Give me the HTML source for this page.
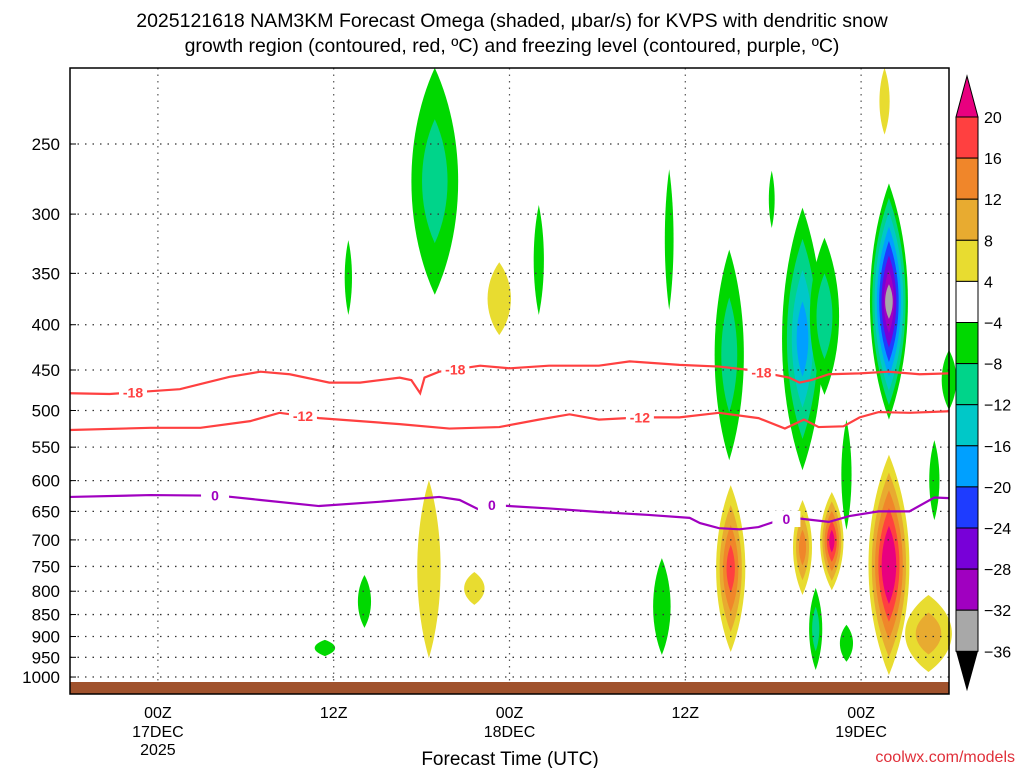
<!DOCTYPE html>
<html><head><meta charset="utf-8"><style>
html,body{margin:0;padding:0;background:#fff;}
body{width:1024px;height:768px;overflow:hidden;font-family:"Liberation Sans",sans-serif;}
</style></head><body>
<svg id="chart" width="1024" height="768" xmlns="http://www.w3.org/2000/svg" font-family="Liberation Sans, sans-serif">
<text x="512" y="27" font-size="19.5" text-anchor="middle">2025121618 NAM3KM Forecast Omega (shaded, μbar/s) for KVPS with dendritic snow</text>
<text x="512" y="52" font-size="19.5" text-anchor="middle">growth region (contoured, red, ºC) and freezing level (contoured, purple, ºC)</text>
<g id="shade"></g>
<g id="grid"></g>
<rect x="70" y="682" width="879" height="12" fill="#a0522d"/>
<g id="contours"></g>
<rect x="70" y="68" width="879" height="626" fill="none" stroke="#000" stroke-width="1.5"/>
<g id="yaxis"></g>
<g id="xaxis"></g>
<text x="510" y="765" font-size="19" text-anchor="middle">Forecast Time (UTC)</text>
<text x="1015" y="762" font-size="16" fill="#e0303a" text-anchor="end">coolwx.com/models</text>
<g id="cbar"></g>
</svg>
<script>
// ---- data ----
const pressureTicks=[250,300,350,400,450,500,550,600,650,700,750,800,850,900,950,1000];
const timeTickHours=[6,18,30,42,54];
const timeTickLabels=["00Z","12Z","00Z","12Z","00Z"];
const dateLabels=["17DEC","","18DEC","","19DEC"];
const yearLabels=["2025","","","",""];
const cbarLevels=[20,16,12,8,4,-4,-8,-12,-16,-20,-24,-28,-32,-36];
// contour lines: [forecast hour, pressure hPa]
const m18Line=[[0,478],[2.7,479],[7.5,473],[10.9,458],[13,452],[15,455],[17.7,465],[19.8,465],[22.5,459],[23.3,462],[23.9,478],[24.2,459],[25.2,452],[28,445],[30,448],[32.7,445],[36.1,445],[38.2,440],[41.6,444],[44.3,446],[46.4,450],[49.1,459],[49.8,465],[50.6,462],[51.8,455],[53.9,454],[55.9,452],[58,455],[60,454]];
const m12Line=[[0,526],[5.5,523],[8.9,523],[12.3,514],[14.3,503],[17,510],[19.8,514],[22.5,518],[25.9,524],[29.3,522],[32,512],[34.1,505],[36.1,512],[38.9,509],[41.6,509],[44.3,503],[47,510],[48.8,524],[50.1,512],[51.1,522],[52.8,521],[53.9,509],[55.2,502],[57.3,503],[60,501]];
const zeroLine=[[0,626],[5.5,623],[10.2,624],[13,631],[17,641],[21.1,634],[25.2,626],[26.6,631],[28,648],[28.6,639],[32.7,645],[36.1,651],[39.5,656],[42.3,661],[43,670],[44.3,679],[45.7,681],[47,677],[48.4,665],[49.4,661],[51.8,668],[53.2,658],[55.2,650],[57.3,650],[59,627],[60,628]];
const m18LabelHours=[4.3,26.3,47.2];
const m12LabelHours=[15.9,38.9];
const zeroLabelHours=[9.9,28.8,48.9];
// omega cells: center hour, top hPa, bottom hPa, half-width hours, peak µbar/s
const cellHour=[24.9,19,32,29.3,40.9,47.9,50,51.5,45,55.9,53,59,60,55.6,45.1,50,52,55.9,58.6,24.5,27.6,20.1,17.4,40.4,50.9,53];
const cellTop=[205,321,293,340,267,268,295,319,329,277,512,540,427,205,607,631,618,561,808,599,761,767,908,734,793,873];
const cellBottom=[370,390,390,411,385,311,584,480,569,512,682,665,499,244,937,808,798,995,987,952,829,880,947,944,982,961];
const cellWidth=[1.6,0.25,0.35,0.8,0.3,0.2,1.4,1.0,1.0,1.3,0.35,0.35,0.5,0.35,1.0,0.65,0.8,1.4,1.6,0.8,0.7,0.45,0.7,0.6,0.45,0.45];
const cellPeak=[-8.5,-6,-6,6,-6,-6,-18,-10,-11,-34,-6,-6,-6,6,18,12,22,24,10,6,6,-6,-6,-6,-10,-6];

// ---- axes ----
const X0=70,X1=949,Y0=68,Y1=694;
const xs=h=>X0+h*(X1-X0)/60;
const ys=p=>144+384.5*Math.log(p/250);
const NS="http://www.w3.org/2000/svg";
function mk(tag,attrs,parent){const e=document.createElementNS(NS,tag);for(const k in attrs)e.setAttribute(k,attrs[k]);parent.appendChild(e);return e;}
const posColors={4:"#e8dc30",8:"#e8ab30",12:"#f0862a",16:"#ff4040",20:"#e8007f"};
const negColors={4:"#00d800",8:"#00d48a",12:"#00c8c8",16:"#00a0ff",20:"#1e3cff",24:"#7800d8",28:"#a000c0",32:"#a8a8a8"};

// shading
const shade=document.getElementById('shade');
for(let i=0;i<cellHour.length;i++){
  const v=cellPeak[i],a=Math.abs(v);
  const n=Math.floor((a-4)/4)+1;
  const cx=xs(cellHour[i]),t=ys(cellTop[i]),b=ys(cellBottom[i]);
  const cy=(t+b)/2,hh=(b-t)/2,hw=cellWidth[i]*(X1-X0)/60;
  for(let k=0;k<n;k++){
    const s=1-k/(n+0.2);
    const lev=4+4*k;
    const col=v>0?posColors[Math.min(lev,20)]:negColors[Math.min(lev,32)];
    const top=cy-hh*s,bot=cy+hh*s,w=hw*Math.max(s,0.2)*1.33;
    const p=mk('path',{d:`M${cx},${top} C${cx+w},${cy-hh*s*0.4} ${cx+w},${cy+hh*s*0.4} ${cx},${bot} C${cx-w},${cy+hh*s*0.4} ${cx-w},${cy-hh*s*0.4} ${cx},${top}Z`,fill:col},shade);
    
    
  }
}

// grid + axes
const grid=document.getElementById('grid'),yax=document.getElementById('yaxis'),xax=document.getElementById('xaxis');
pressureTicks.forEach(p=>{
  const y=ys(p);
  const l=mk('line',{x1:X0,x2:X1,y1:y,y2:y,stroke:"#333","stroke-width":1.3,"stroke-dasharray":"1.5 6"},grid);
  
  
  const tk=mk('line',{x1:X0,x2:X0+6,y1:y,y2:y,stroke:"#000"},yax);
  
  
  const t=mk('text',{x:60,y:y+6,"font-size":17,"text-anchor":"end"},yax);
  t.textContent=p;
  
  
});
timeTickHours.forEach((h,i)=>{
  const x=xs(h);
  const l=mk('line',{x1:x,x2:x,y1:Y0,y2:Y1,stroke:"#555","stroke-width":1.2,"stroke-dasharray":"1.5 5"},grid);
  
  
  [[timeTickLabels[i],718],[dateLabels[i],737],[yearLabels[i],755]].forEach(([s,y])=>{
    if(!s)return;
    const t=mk('text',{x:x,y:y,"font-size":16,"text-anchor":"middle"},xax);
    t.textContent=s;
    
    
  });
});

// contours
const cg=document.getElementById('contours');
function interpP(line,h){for(let i=0;i<line.length-1;i++){if(h>=line[i][0]&&h<=line[i+1][0]){const f=(h-line[i][0])/(line[i+1][0]-line[i][0]);return line[i][1]+f*(line[i+1][1]-line[i][1]);}}return line[line.length-1][1];}
function drawLine(line,col,name,labelHours,txt){
  const pl=mk('polyline',{points:line.map(d=>xs(d[0])+","+ys(d[1])).join(" "),fill:"none",stroke:col,"stroke-width":2.2},cg);
  
  
  labelHours.forEach(h=>{
    const x=xs(h),y=ys(interpP(line,h));
    const r=mk('rect',{x:x-14,y:y-8,width:28,height:16,fill:"#fff"},cg);
    
    
    const t=mk('text',{x:x,y:y+5,"font-size":14,"font-weight":"bold",fill:col,"text-anchor":"middle"},cg);
    t.textContent=txt;
    
    
  });
}
drawLine(m18Line,"#ff4040","minus18-contour",m18LabelHours,"-18");
drawLine(m12Line,"#ff4040","minus12-contour",m12LabelHours,"-12");
drawLine(zeroLine,"#a000c0","freezing-level-contour",zeroLabelHours,"0");

// colorbar
const cb=document.getElementById('cbar');
const cbCols=["#ff4040","#f0862a","#e8ab30","#e8dc30","#ffffff","#00d800","#00d48a","#00c8c8","#00a0ff","#1e3cff","#7800d8","#a000c0","#a8a8a8"];
const CBX=956,CBW=22,CBT=117,CBS=41.1;
const tri=mk('polygon',{points:`${CBX},${CBT} ${CBX+CBW},${CBT} ${CBX+CBW/2},76`,fill:"#e8007f",stroke:"#000"},cb);


cbCols.forEach((c,i)=>{
  const r=mk('rect',{x:CBX,y:CBT+i*CBS,width:CBW,height:CBS,fill:c,stroke:"#000","stroke-width":1},cb);
  
  
});
const bot=CBT+cbCols.length*CBS;
const tri2=mk('polygon',{points:`${CBX},${bot} ${CBX+CBW},${bot} ${CBX+CBW/2},${bot+40}`,fill:"#000"},cb);


cbarLevels.forEach((v,i)=>{
  const t=mk('text',{x:984,y:CBT+i*CBS+6,"font-size":16},cb);
  t.textContent=v<0?"−"+(-v):v;
  
  
});
</script>
</body></html>
